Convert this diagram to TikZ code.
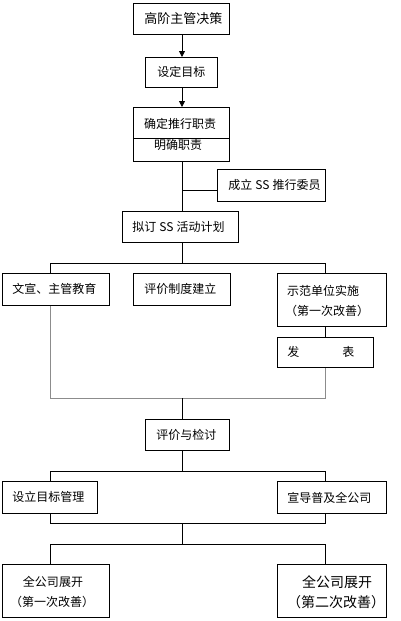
\documentclass[tikz,border=0pt]{standalone}
\usepackage{fontspec}
\setmainfont{Noto Sans CJK SC}
\usetikzlibrary{arrows.meta}
\tikzset{
  box/.style={draw=black, line width=0.8pt, anchor=north west, inner ysep=0pt, inner xsep=0pt, font=\fontsize{12}{19}\selectfont},
  lbox/.style={box, align=left},
  cbox/.style={box, align=center},
  ln/.style={draw=black, line width=0.8pt},
  gln/.style={draw=gray!90, line width=1pt},
  arr/.style={ln, -{Triangle[length=6pt,width=6pt]}},
  txt/.style={inner sep=0pt, font=\fontsize{12}{15}\selectfont}
}
\begin{document}
\begin{tikzpicture}[x=1pt,y=-1pt]
\useasboundingbox (0,0) rectangle (401,621);
% boxes
\node[cbox, text width=96pt, minimum height=31pt, font=\fontsize{13}{19}\selectfont] (b1) at (133,3) {\hspace*{4pt}高阶主管决策};
\node[cbox, text width=72pt, minimum height=30pt] (b2) at (145,57) {设定目标};
\node[box, text width=96pt, minimum height=54pt] (b3) at (133,107) {};
\node[txt] (t3a) at (180,124) {确定推行职责};
\node[txt] (t3b) at (178,145) {明确职责};
\draw[ln] (b3.west |- 0,138) -- (b3.east |- 0,138);
\node[lbox, text width=108pt, minimum height=32pt] (b4) at (217,169) {\mbox{\hspace*{11pt}成立\kern3pt SS\kern3pt 推行委员}};
\node[lbox, text width=116pt, minimum height=31pt] (b5) at (122,211) {\mbox{\hspace*{10pt}拟订\kern3pt SS\kern3pt 活动计划}};
\node[lbox, text width=107pt, minimum height=32pt] (b6) at (2,273) {\mbox{\hspace*{10pt}文宣、主管教育}};
\node[lbox, text width=97pt, minimum height=32pt] (b7) at (133,273) {\mbox{\hspace*{11pt}评价制度建立}};
\node[box, text width=109pt, minimum height=53pt] (b8) at (277,273) {};
\node[txt, anchor=west] (t8a) at (287,291) {示范单位实施};
\node[txt, anchor=west] (t8b) at (285,311) {（第一次改善）};
\node[lbox, text width=96pt, minimum height=30pt] (b9) at (277,337) {\mbox{\hspace*{10pt}发\hspace{43pt}表}};
\node[lbox, text width=84pt, minimum height=31pt] (b10) at (145,419) {\mbox{\hspace*{11pt}评价与检讨}};
\node[lbox, text width=95pt, minimum height=32pt] (b11) at (2,481) {\mbox{\hspace*{10pt}设立目标管理}};
\node[lbox, text width=109pt, minimum height=32pt] (b12) at (277,481) {\mbox{\hspace*{10pt}宣导普及全公司}};
\node[box, text width=107pt, minimum height=53pt] (b13) at (2,564) {};
\node[txt] (t13a) at (53,582) {全公司展开};
\node[txt] (t13b) at (52,602) {（第一次改善）};
\node[box, text width=109pt, minimum height=53pt] (b14) at (277,564) {};
\node[txt, font=\fontsize{14}{16}\selectfont] (t14a) at (337,582) {全公司展开};
\node[txt, font=\fontsize{14}{16}\selectfont] (t14b) at (336,602) {（第二次改善）};
% coordinates
\coordinate (sp) at (182,0);
\coordinate (L) at (50,0);
\coordinate (R) at (325,0);
\coordinate (j1) at (182,190);
\coordinate (bus1) at (182,263);
\coordinate (bus2) at (182,398);
\coordinate (bus3) at (182,471);
\coordinate (bus4) at (182,523);
\coordinate (bus5) at (182,544);
% connectors
\draw[arr] (b1.south -| sp) -- (b2.north -| sp);
\draw[arr] (b2.south -| sp) -- (b3.north -| sp);
\draw[ln] (b3.south -| sp) -- (b5.north -| sp);
\draw[ln] (j1) -- (b4.west |- j1);
\draw[ln] (b5.south -| sp) -- (bus1);
\draw[ln] (b6.north -| L) -- (bus1 -| L) -- (bus1 -| R) -- (b8.north -| R);
\draw[ln] (b8.south -| R) -- (b9.north -| R);
\draw[gln] (b6.south -| L) -- (bus2 -| L) -- (bus2 -| R) -- (b9.south -| R);
\draw[ln] (bus2) -- (b10.north -| sp);
\draw[ln] (b10.south -| sp) -- (bus3);
\draw[ln] (b11.north -| L) -- (bus3 -| L) -- (bus3 -| R) -- (b12.north -| R);
\draw[ln] (b11.south -| L) -- (bus4 -| L) -- (bus4 -| R) -- (b12.south -| R);
\draw[ln] (bus4) -- (bus5);
\draw[ln] (b13.north -| L) -- (bus5 -| L) -- (bus5 -| R) -- (b14.north -| R);
\end{tikzpicture}
\end{document}
